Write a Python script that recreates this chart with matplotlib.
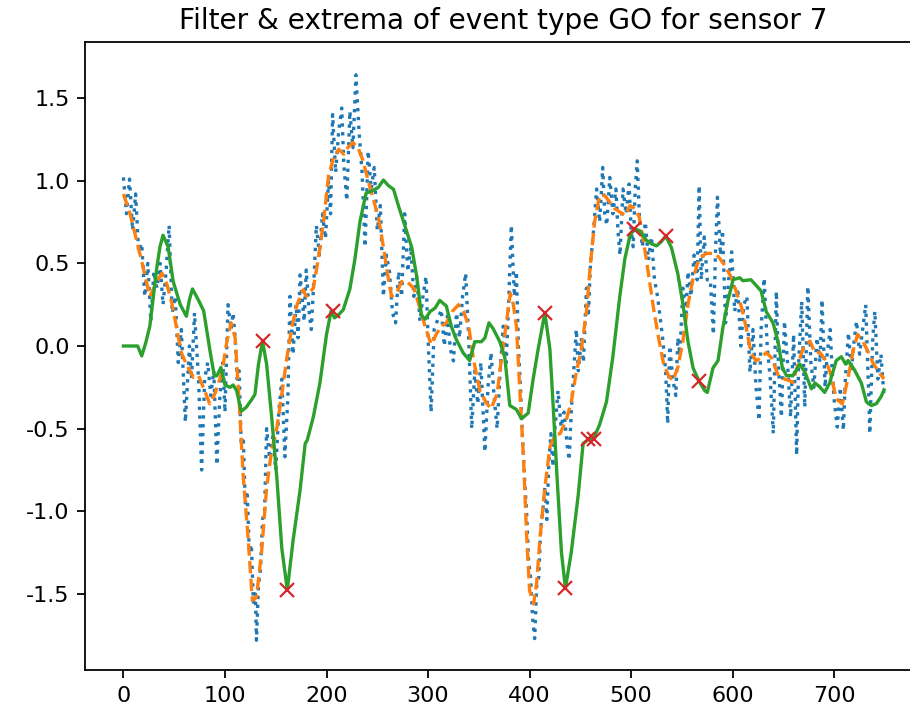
import matplotlib
matplotlib.use('Agg')
import matplotlib.pyplot as plt
import numpy as np

plt.rcParams['axes.unicode_minus'] = False

# raw sensor signal (blue, dotted) - at its turning points
raw_t = [0, 3, 6, 9, 12, 15, 18, 21, 24, 27, 30, 33, 36, 39, 42, 45, 48,
         51, 54, 57, 61, 65, 67, 70, 74, 77, 80, 83, 86, 89, 92, 95, 98, 100,
         103, 106, 108, 110, 112, 114, 116, 118, 120, 122, 124, 126, 128, 130,
         131, 133, 135, 137, 139, 141, 144, 147, 150, 153, 156, 159, 162, 164,
         167, 170, 172, 174, 178, 180, 183, 185, 188, 190, 193, 196, 199, 202,
         204, 206, 209, 212, 215, 217, 220, 223, 226, 229, 232, 235, 238, 241,
         244, 247, 250, 253, 256, 259, 262, 265, 268, 271, 274, 277, 280, 283,
         286, 289, 292, 295, 298, 300, 303, 306, 309, 313, 316, 319, 322, 325,
         328, 331, 334, 337, 340, 343, 346, 349, 352, 356, 359, 362, 365, 368,
         371, 374, 377, 379, 382, 385, 387, 389, 391, 393, 395, 397, 399, 401,
         403, 405, 407, 409, 411, 413, 415, 417, 419, 421, 423, 425, 428, 431,
         434, 437, 439, 441, 443, 446, 448, 451, 453, 456, 458, 460, 463, 466,
         469, 472, 474, 476, 479, 482, 485, 487, 489, 492, 495, 498, 500, 502,
         504, 506, 508, 511, 514, 517, 520, 523, 526, 528, 531, 534, 536, 538,
         541, 544, 546, 548, 551, 554, 556, 559, 562, 565, 567, 569, 572, 575,
         578, 581, 583, 585, 588, 590, 593, 596, 599, 602, 605, 608, 611, 614,
         617, 620, 623, 626, 628, 631, 634, 637, 640, 643, 645, 648, 651, 654,
         657, 660, 663, 665, 668, 671, 674, 677, 680, 683, 686, 688, 691, 693,
         696, 698, 700, 703, 706, 709, 711, 714, 717, 719, 722, 725, 728, 731,
         734, 735, 738, 740, 743, 746, 749]
raw = [1.02, 0.80, 1.01, 0.70, 0.92, 0.57, 0.62, 0.30, 0.50, 0.15, 0.45, 0.35,
       0.50, 0.25, 0.45, 0.73, 0.20, 0.30, -0.10, 0.10, -0.46, 0.00, -0.20,
       0.20, -0.20, -0.75, -0.20, -0.10, -0.30, -0.15, -0.72, -0.30, -0.10,
       -0.40, 0.25, 0.10, 0.20, 0.05, -0.20, -0.15, -0.60, -0.55, -0.95, -0.90,
       -1.25, -1.20, -1.55, -1.50, -1.78, -1.45, -1.35, -1.05, -1.00, -0.50,
       -0.68, -0.55, -0.75, -0.40, -0.20, -0.67, -0.30, 0.30, -0.05, 0.25,
       0.05, 0.43, 0.15, 0.46, 0.20, 0.10, 0.45, 0.73, 0.55, 0.80, 0.65, 1.00,
       0.80, 1.40, 1.05, 1.30, 1.44, 1.10, 0.88, 1.42, 1.20, 1.64, 1.30, 1.05,
       0.60, 1.18, 0.95, 1.08, 0.70, 0.85, 0.30, 0.55, 0.45, 0.20, 0.14, 0.45,
       0.30, 0.80, 0.45, 0.60, 0.30, 0.42, 0.15, 0.30, 0.42, 0.05, -0.40, 0.10,
       0.15, 0.22, 0.00, 0.18, -0.02, -0.09, 0.20, 0.05, 0.30, 0.44, 0.05,
       -0.50, -0.15, -0.35, -0.10, -0.64, -0.25, -0.04, -0.30, -0.50, -0.15,
       0.12, -0.10, 0.20, 0.73, 0.30, 0.45, 0.00, -0.25, -0.55, -0.80, -1.00,
       -1.30, -1.40, -1.65, -1.77, -1.45, -1.40, -1.10, -1.00, -0.85, -1.05,
       -0.70, -0.53, -0.73, -0.50, -0.27, -0.49, -0.40, -0.60, -0.69, -0.40,
       -0.20, 0.10, -0.15, 0.05, -0.10, 0.35, 0.20, 0.50, 0.70, 0.95, 0.75,
       1.08, 0.80, 0.73, 1.02, 0.80, 0.95, 0.70, 0.55, 0.95, 0.80, 0.98, 0.70,
       0.60, 0.95, 1.12, 0.80, 0.60, 0.75, 0.52, 0.66, 0.40, 0.30, 0.20, 0.05,
       -0.15, -0.47, 0.00, -0.20, -0.30, 0.05, -0.05, 0.35, 0.20, 0.45, 0.30,
       0.55, 0.40, 0.97, 0.40, 0.66, 0.40, 0.40, 0.07, 0.55, 0.90, 0.55, 0.70,
       0.14, 0.40, 0.57, 0.21, 0.35, 0.00, 0.25, 0.30, -0.16, 0.10, -0.25,
       -0.45, 0.10, 0.41, 0.00, -0.20, -0.53, 0.33, -0.10, -0.43, 0.15, -0.10,
       -0.43, 0.07, -0.66, -0.10, 0.27, -0.37, 0.36, -0.10, -0.25, 0.05, -0.10,
       0.28, -0.25, -0.05, 0.10, -0.15, -0.33, -0.49, -0.25, -0.51, -0.20,
       0.08, -0.15, 0.00, 0.15, -0.05, 0.10, 0.25, -0.30, -0.53, 0.05, 0.21,
       -0.20, -0.05, -0.30]

# smoothed signal (orange, dashed)
smooth_t = [0, 6.5, 13, 20, 26, 33, 38, 43, 48, 52, 57, 62, 69, 74, 80, 85, 90,
            97, 102, 106, 110, 114, 118, 123, 127, 131, 136, 141, 146, 151, 156,
            161, 166, 171, 177, 180, 187, 192, 197, 202, 207, 212, 217, 221, 226,
            231, 236, 241, 246, 251, 256, 260, 264, 269, 274, 279, 286, 292, 297,
            303, 308, 313, 318, 324, 330, 335, 340, 345, 351, 357, 362, 368, 372,
            376, 381, 384, 387, 390, 394, 397, 400, 404, 407, 410, 415, 420, 425,
            430, 436, 441, 446, 451, 456, 460, 464, 469, 474, 479, 484, 489, 494,
            499, 504, 508, 512, 517, 522, 527, 532, 537, 541, 546, 551, 556, 561,
            567, 574, 581, 586, 592, 599, 604, 609, 614, 618, 623, 628, 633, 638,
            645, 651, 656, 659, 664, 669, 676, 681, 686, 692, 697, 702, 708, 714,
            719, 723, 728, 733, 738, 743, 749]
smooth = [0.92, 0.80, 0.64, 0.46, 0.30, 0.39, 0.44, 0.37, 0.25, 0.12, -0.04,
          -0.11, -0.19, -0.18, -0.27, -0.35, -0.29, -0.16, 0.03, 0.14, 0.05,
          -0.34, -0.79, -1.18, -1.54, -1.52, -1.25, -0.86, -0.63, -0.50, -0.29,
          -0.07, 0.12, 0.25, 0.34, 0.30, 0.35, 0.53, 0.75, 1.03, 1.14, 1.19,
          1.16, 1.20, 1.23, 1.20, 1.12, 1.00, 0.89, 0.78, 0.60, 0.44, 0.30, 0.32,
          0.39, 0.39, 0.35, 0.23, 0.12, 0.01, 0.07, 0.12, 0.14, 0.21, 0.25, 0.21,
          0.12, -0.09, -0.27, -0.34, -0.38, -0.29, -0.09, 0.09, 0.32, 0.25, 0.12,
          -0.22, -0.68, -1.14, -1.48, -1.56, -1.43, -1.18, -0.86, -0.61, -0.54,
          -0.53, -0.45, -0.34, -0.16, -0.02, 0.21, 0.50, 0.75, 0.91, 0.91, 0.87,
          0.83, 0.81, 0.79, 0.85, 0.83, 0.78, 0.64, 0.44, 0.23, 0.05, -0.11,
          -0.18, -0.21, -0.13, 0.03, 0.25, 0.41, 0.53, 0.56, 0.56, 0.54, 0.49,
          0.41, 0.32, 0.23, 0.09, -0.04, -0.09, -0.07, -0.04, -0.07, -0.18,
          -0.20, -0.21, -0.22, -0.12, -0.02, 0.03, -0.04, -0.04, -0.09, -0.18,
          -0.32, -0.35, -0.18, -0.02, 0.07, 0.03, -0.03, -0.10, -0.15, -0.20]

# filtered signal (green, solid)
filt_t = [0, 14, 18, 22, 26, 33, 36, 39, 44, 49, 56, 62, 65, 68, 74, 79, 85, 89.5,
          92, 96, 100, 105, 108, 111.5, 116, 121, 126, 129.5, 133, 137, 141, 146,
          151, 156, 161.4, 167, 174, 179, 181, 187, 193.5, 200, 204.5, 208, 212,
          216.5, 223, 228, 233, 239, 244, 251, 256, 261, 266, 271, 277, 284, 289,
          293.5, 297, 302, 307, 311.5, 318, 323, 328, 334.6, 341, 346, 352.6, 356,
          360, 364, 370.7, 375.6, 380.5, 387, 392, 398.6, 403.5, 408.4, 415, 420,
          423, 427, 431.4, 435.3, 441, 447.8, 452.7, 458, 463, 469, 475.7, 482,
          488.8, 493.8, 498.7, 503, 508.5, 515, 520, 525, 529.5, 534.1, 539.7,
          546, 551, 556, 561, 566.6, 572.5, 575, 580.6, 585.6, 590.5, 595.4, 600.4,
          607, 610, 618, 623, 628, 633, 639.7, 644.7, 649, 653, 659.4, 666, 671,
          677.5, 681, 685.7, 690.6, 695.5, 702, 707, 711.3, 713.6, 720, 726.7,
          731.7, 736.6, 741.5, 746.4, 749]
filt = [0.0, 0.0, -0.06, 0.02, 0.12, 0.48, 0.60, 0.67, 0.60, 0.39, 0.25, 0.18,
        0.28, 0.345, 0.276, 0.213, -0.02, -0.18, -0.18, -0.13, -0.236, -0.25,
        -0.236, -0.27, -0.395, -0.37, -0.327, -0.293, -0.11, 0.03, -0.11, -0.43,
        -0.79, -1.226, -1.476, -1.18, -0.87, -0.59, -0.57, -0.43, -0.224, 0.07,
        0.21, 0.17, 0.19, 0.219, 0.345, 0.527, 0.754, 0.925, 0.936, 0.959, 1.004,
        0.97, 0.948, 0.845, 0.731, 0.595, 0.413, 0.185, 0.162, 0.208, 0.23,
        0.276, 0.242, 0.117, 0.037, -0.042, -0.088, 0.026, 0.026, 0.049, 0.14,
        0.106, 0.026, -0.07, -0.36, -0.384, -0.44, -0.406, -0.2, -0.02, 0.20,
        -0.02, -0.338, -0.79, -1.25, -1.465, -1.25, -0.907, -0.59, -0.565, -0.56,
        -0.475, -0.338, -0.065, 0.299, 0.527, 0.663, 0.71, 0.697, 0.64, 0.618,
        0.606, 0.63, 0.665, 0.595, 0.436, 0.254, 0.026, -0.133, -0.21, -0.27,
        -0.281, -0.133, -0.088, 0.117, 0.276, 0.401, 0.413, 0.395, 0.401, 0.367,
        0.333, 0.208, 0.14, 0.026, -0.133, -0.179, -0.179, -0.11, -0.156, -0.259,
        -0.224, -0.247, -0.281, -0.224, -0.088, -0.065, -0.11, -0.088, -0.145,
        -0.224, -0.338, -0.36, -0.349, -0.304, -0.265]

# detected extrema (red crosses)
ext_t = [137, 161.4, 206, 415, 435.3, 458, 463, 503, 534.1, 566.6]
ext = [0.03, -1.476, 0.21, 0.20, -1.465, -0.565, -0.56, 0.71, 0.665, -0.21]

sensor = 7
event = 'GO'

fig = plt.figure(figsize=(910 / 160, 713 / 160), dpi=160)
ax = fig.add_axes([85.4 / 910, 1 - 670 / 713, 836.6 / 910, 628 / 713])

ax.plot(raw_t, raw, ':', color='tab:blue')
ax.plot(smooth_t, smooth, '--', color='tab:orange')
ax.plot(filt_t, filt, '-', color='tab:green')
ax.plot(ext_t, ext, 'x', color='tab:red')

ax.set_xlim(-37.45, 786.45)
ax.set_ylim(-1.96, 1.839)
ax.set_title('Filter & extrema of event type {} for sensor {}'.format(event, sensor),
             fontsize=12.6)

fig.savefig('out.png', dpi=160)
